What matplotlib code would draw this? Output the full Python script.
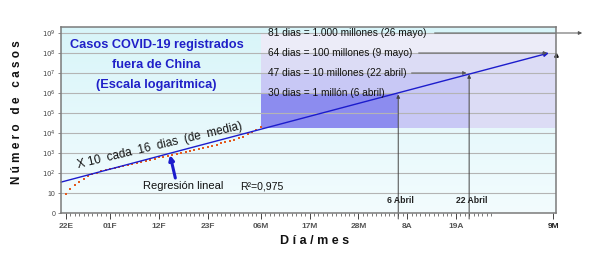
import matplotlib
matplotlib.use("Agg")
import matplotlib.pyplot as plt
from matplotlib.colors import LinearSegmentedColormap
import numpy as np

plt.rcParams['font.family'] = ['Liberation Sans', 'DejaVu Sans']

# days counted from 22 Jan 2020
tick_days = [0, 10, 21, 32, 44, 55, 66, 77, 88, 110]
tick_labels = ['22E', '01F', '12F', '23F', '06M', '17M', '28M', '8A', '19A', '9M']

ytick_vals = [1, 10, 1e2, 1e3, 1e4, 1e5, 1e6, 1e7, 1e8, 1e9]
ytick_labels = ['0', '10', '$10^2$', '$10^3$', '$10^4$', '$10^5$', '$10^6$',
                '$10^7$', '$10^8$', '$10^9$']

# registered cases outside China, 22 Jan - 6 Mar
case_days = list(range(45))
cases = [9, 16, 25, 35, 50, 71, 89, 105, 120, 135, 151, 170, 190, 214, 240,
         269, 302, 347, 398, 457, 525, 603, 661, 741, 832, 933, 1047, 1175,
         1318, 1479, 1660, 1862, 2089, 2344, 2630, 3020, 3388, 3802, 4467,
         5370, 6607, 8511, 11220, 14790, 19950]

# regression line (x10 every ~16 days)
reg_days = [-1.1, 109]
reg_cases = [35, 1e8]

# milestones
mile_days = [75, 91, 108, 125]
mile_vals = [1e6, 1e7, 1e8, 1e9]
mile_texts = ['30 dias = 1 millón (6 abril)', '47 dias = 10 millones (22 abril)',
              '64 dias = 100 millones (9 mayo)', '81 dias = 1.000 millones (26 mayo)']

shade_start = 44
shade_bottom = 18000

xmin, xmax = -1.1, 110.6
ymin, ymax = 1, 10 ** 9.3

fig = plt.figure(figsize=(6, 2.54), dpi=100)
ax = fig.add_axes([61 / 600, 41 / 254, 495 / 600, 186 / 254])
ax.set_yscale('log')
ax.set_xlim(xmin, xmax)
ax.set_ylim(ymin, ymax)

# background gradient
grad = np.linspace(0, 1, 256).reshape(-1, 1)
cmap = LinearSegmentedColormap.from_list('bg', ['#f3fcfe', '#d8f5f9'])
ax.imshow(grad, extent=[0, 1, 0, 1], transform=ax.transAxes, cmap=cmap,
          origin='lower', aspect='auto', zorder=0)

# shaded blocks
ax.fill_between([shade_start, xmax], shade_bottom, mile_vals[3], color='#ececf8', zorder=1, lw=0)
ax.fill_between([shade_start, xmax], shade_bottom, mile_vals[2], color='#dcdcf5', zorder=1, lw=0)
ax.fill_between([shade_start, mile_days[1]], shade_bottom, mile_vals[1], color='#c8c8f5', zorder=1, lw=0)
ax.fill_between([shade_start, mile_days[0]], shade_bottom, mile_vals[0], color='#8c8cef', zorder=1, lw=0)

for v in ytick_vals[1:]:
    ax.axhline(v, color='#b4b4b4', lw=0.8, zorder=2)

# data dots
ax.plot(case_days, cases, ls='none', marker='s', ms=1.5, mew=0, color='#e35a1e', zorder=4)

# regression line with arrow
ax.annotate('', xy=(reg_days[1], reg_cases[1]), xytext=(reg_days[0], reg_cases[0]),
            arrowprops=dict(arrowstyle='-|>', color='#1c1ccc', lw=1.0, mutation_scale=7,
                            shrinkA=0, shrinkB=0), zorder=5)

# milestone texts and arrows
text_x = 45.6
arrow_from = [None, 78.0, 79.6, 83.2]
arrow_to = [None, 90.4, 108.6, 116.5]
for i in range(4):
    ax.text(text_x, mile_vals[i], mile_texts[i], fontsize=7.3, va='center', ha='left',
            color='#111111', zorder=6)
    if arrow_from[i] is not None:
        ax.annotate('', xy=(arrow_to[i], mile_vals[i]), xytext=(arrow_from[i], mile_vals[i]),
                    arrowprops=dict(arrowstyle='-|>', color='#555555', lw=0.7,
                                    mutation_scale=5, shrinkA=0, shrinkB=0),
                    annotation_clip=False, zorder=6)

# vertical markers for 6 and 22 April
for d, v, lab in [(mile_days[0], mile_vals[0], '6 Abril'), (mile_days[1], mile_vals[1], '22 Abril')]:
    ax.annotate('', xy=(d, v * 0.85), xytext=(d, 10 ** -0.3),
                arrowprops=dict(arrowstyle='-|>', color='#444444', lw=0.7,
                                mutation_scale=5, shrinkA=0, shrinkB=0),
                annotation_clip=False, zorder=6)
    ax.text(d + 0.6, 4, lab, fontsize=6.2, fontweight='bold', ha='center', va='center',
            color='#222222', zorder=6)
ax.plot([xmax - 0.1], [mile_vals[2] * 0.8], marker='^', ms=2.5, color='#111111',
        clip_on=False, zorder=6)

# title
ax.text(20.5, 10 ** 7.4, 'Casos COVID-19 registrados\nfuera de China\n(Escala logaritmica)',
        fontsize=9.2, fontweight='bold', color='#2020c8', ha='center', va='center',
        linespacing=1.85, zorder=6)

# slope text
ax.text(2.9, 170, 'X 10  cada  16  dias  (de  media)', fontsize=8.4, rotation=13.4,
        rotation_mode='anchor', ha='left', va='baseline', color='#111111', zorder=6)

# regression label + arrow
ax.annotate('', xy=(23.5, 10 ** 2.9), xytext=(24.7, 10 ** 1.75),
            arrowprops=dict(arrowstyle='-|>', color='#1c1ccc', lw=2.2, mutation_scale=7,
                            shrinkA=0, shrinkB=0), zorder=6)
ax.text(17.3, 22, 'Regresión lineal', fontsize=8, ha='left', va='center', color='#111111', zorder=6)
ax.text(39.3, 22, 'R²=0,975', fontsize=7.6, ha='left', va='center', color='#111111', zorder=6)

# axes styling
for s in ax.spines.values():
    s.set_color('#7a7a7a')
    s.set_linewidth(1.1)
    s.set_zorder(7)

ax.set_xticks(tick_days)
ax.set_xticklabels(tick_labels, fontsize=6, fontweight='bold', color='#555555')
ax.get_xticklabels()[-1].set_color('#222222')
ax.set_yticks(ytick_vals)
ax.set_yticklabels(ytick_labels, fontsize=5, color='#444444')
ax.yaxis.set_minor_locator(matplotlib.ticker.NullLocator())
ax.set_xticks(range(0, 97), minor=True)
ax.tick_params(axis='x', which='major', direction='out', length=4, width=0.7,
               color='#444444', pad=3)
ax.tick_params(axis='x', which='minor', direction='out', length=2.5, width=0.5,
               color='#444444')
ax.tick_params(axis='y', which='major', length=2, width=0.6, color='#777777', pad=2)

fig.text(17 / 600, 1 - 112 / 254, 'N ú m e r o   d e   c a s o s', rotation=90,
         fontsize=8.5, fontweight='bold', ha='center', va='center', color='#111111')
fig.text(315 / 600, 1 - 241 / 254, 'D í a / m e s', fontsize=9, fontweight='bold',
         ha='center', va='center', color='#111111')

fig.savefig('out.png', dpi=100)
